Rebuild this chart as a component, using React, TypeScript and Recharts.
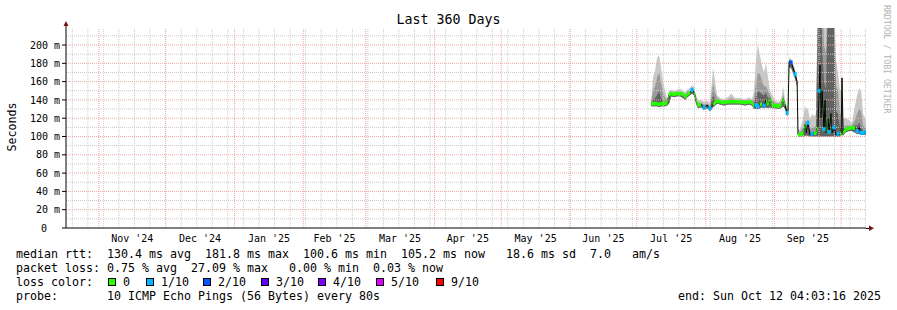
import React from 'react'
import { ComposedChart, Area, Line, XAxis, YAxis, ReferenceLine } from 'recharts'

// 360 days ending Sun Oct 12 04:03:16 2025, x measured in days from the left edge
const DAY = 86400000
const END = Date.UTC(2025, 9, 12, 4, 3, 16)
const START = END - 360 * DAY
const toDay = (t: number) => (t - START) / DAY

const monthLabels = ["Nov '24", "Dec '24", "Jan '25", "Feb '25", "Mar '25", "Apr '25", "May '25", "Jun '25", "Jul '25", "Aug '25", "Sep '25"]
const yTicks = [0, 20, 40, 60, 80, 100, 120, 140, 160, 180, 200]
const yMinor = [10, 30, 50, 70, 90, 110, 130, 150, 170, 190, 210]

// month boundaries (Nov 1 2024 .. Oct 1 2025) and label positions mid-month
const monthStarts = Array.from({ length: 12 }, (_, k) => toDay(Date.UTC(2024, 10 + k, 1)))
const monthMids = monthLabels.map((_, k) => (monthStarts[k] + monthStarts[k + 1]) / 2)
const weekLines: number[] = []
for (let t = Date.UTC(2024, 9, 20); toDay(t) < 360; t += 7 * DAY) weekLines.push(toDay(t))

// samples, days since start
const days = [
  263.3, 264.2, 265.1, 266.0, 266.9, 267.8, 268.7, 269.6, 270.5, 271.4,
  272.3, 273.6, 275.0, 276.3, 277.7, 278.6, 279.5, 280.8, 281.7, 282.6,
  283.5, 284.4, 285.8, 287.1, 288.5, 289.8, 291.2, 292.1, 293.0, 294.3,
  296.1, 297.9, 299.3, 301.1, 303.3, 305.6, 307.4, 308.7, 309.6, 310.5,
  311.4, 312.3, 313.2, 314.1, 315.0, 315.9, 316.8, 317.7, 319.1, 320.4,
  321.8, 322.7, 323.6, 324.5, 324.9, 325.4, 326.3, 327.2, 328.1, 329.0,
  329.4, 330.3, 331.7, 332.6, 333.0, 333.9, 334.8, 335.7, 336.6, 337.5,
  338.4, 338.9, 339.3, 339.8, 340.2, 341.1, 341.6, 342.0, 342.9, 343.4,
  344.3, 344.7, 345.6, 346.5, 347.4, 348.3, 348.8, 349.2, 349.7, 351.0,
  352.4, 353.7, 355.1, 356.0, 356.9, 357.8, 358.7, 360.0,
]
// median rtt in ms
const median = [
  136, 136, 136, 136, 135, 136, 136, 136, 137, 146,
  147, 146, 147, 147, 146, 143, 146, 148, 151, 149,
  140, 134, 135, 132, 134, 131, 135, 137, 139, 138,
  137, 138, 138, 138, 138, 137, 138, 137, 133, 134,
  133, 135, 136, 134, 140, 134, 141, 134, 134, 133,
  134, 141, 134, 126, 128, 182, 181, 175, 168, 160,
  102, 102, 103, 113, 104, 115, 102, 103, 104, 103,
  110, 150, 178, 120, 150, 108, 140, 104, 120, 105,
  125, 104, 110, 102, 103, 102, 104, 164, 104, 108,
  109, 110, 109, 106, 110, 104, 104, 105,
]
// lost pings out of 10
const loss = [
  0, 0, 0, 0, 0, 0, 0, 0, 0, 0,
  0, 0, 0, 0, 0, 0, 0, 0, 1, 0,
  0, 0, 0, 1, 0, 1, 0, 0, 0, 0,
  0, 0, 0, 0, 0, 0, 0, 0, 0, 1,
  1, 0, 0, 1, 0, 0, 0, 0, 0, 0,
  0, 0, 0, 1, 0, 0, 2, 0, 1, 0,
  0, 0, 0, 0, 0, 1, 0, 1, 0, 0,
  0, 1, 0, 0, 0, 1, 0, 0, 0, 1,
  0, 0, 1, 0, 1, 0, 0, 0, 0, 0,
  0, 0, 0, 1, 0, 1, 1, 1,
]
// smoke: common lower edge and upper edges of the light / mid / dark bands
const smokeLo = [
  133, 133, 133, 133, 132, 133, 133, 133, 134, 136,
  144, 143, 144, 144, 142, 140, 143, 145, 147, 145,
  136, 131, 132, 129, 131, 128, 132, 134, 136, 135,
  134, 135, 135, 135, 135, 134, 135, 134, 130, 130,
  130, 131, 132, 131, 132, 131, 132, 131, 131, 130,
  131, 133, 130, 122, 124, 176, 175, 170, 163, 155,
  100, 100, 100, 101, 101, 101, 100, 100, 100, 100,
  100, 100, 100, 100, 100, 100, 100, 100, 100, 100,
  100, 100, 100, 100, 100, 100, 101, 102, 101, 105,
  106, 106, 104, 103, 103, 102, 102, 102,
]
const lightHi = [
  140, 165, 172, 186, 189, 175, 160, 150, 141, 150,
  151, 150, 151, 152, 150, 148, 151, 153, 156, 154,
  146, 139, 140, 138, 139, 137, 175, 160, 145, 142,
  141, 143, 147, 142, 142, 141, 143, 141, 150, 185,
  200, 188, 178, 170, 180, 165, 150, 146, 139, 138,
  140, 155, 140, 132, 134, 186, 185, 180, 173, 165,
  108, 108, 120, 134, 130, 131, 118, 125, 122, 125,
  260, 260, 260, 260, 260, 240, 230, 215, 260, 260,
  260, 260, 260, 185, 170, 150, 150, 168, 120, 120,
  118, 115, 135, 145, 153, 150, 125, 118,
]
const midHi = [
  138, 150, 155, 165, 170, 158, 148, 142, 139, 148,
  149, 148, 149, 149, 148, 146, 149, 150, 153, 151,
  143, 137, 137, 135, 136, 134, 158, 148, 142, 140,
  139, 140, 142, 140, 140, 139, 140, 139, 140, 160,
  170, 168, 160, 155, 155, 150, 145, 140, 137, 136,
  137, 146, 137, 129, 131, 184, 183, 177, 170, 162,
  105, 105, 110, 118, 116, 118, 108, 110, 110, 112,
  260, 260, 260, 260, 260, 200, 195, 190, 260, 260,
  260, 260, 260, 155, 150, 125, 125, 166, 110, 112,
  112, 112, 118, 125, 130, 128, 112, 110,
]
const darkHi = [
  137, 140, 142, 145, 150, 142, 139, 138, 138, 147,
  148, 147, 148, 148, 147, 144, 147, 149, 152, 150,
  141, 135, 136, 133, 135, 132, 145, 140, 140, 139,
  138, 139, 139, 139, 139, 138, 139, 138, 135, 145,
  150, 148, 146, 145, 148, 142, 143, 137, 135, 134,
  135, 143, 135, 127, 129, 183, 182, 176, 169, 161,
  103, 103, 105, 114, 108, 116, 104, 105, 105, 106,
  230, 250, 260, 240, 200, 160, 155, 150, 260, 260,
  250, 240, 220, 128, 125, 110, 110, 165, 106, 110,
  110, 111, 112, 112, 115, 110, 106, 106,
]

const lossLabels = ['0', '1/10', '2/10', '3/10', '4/10', '5/10', '9/10']
const lossColors = ['#26ff00', '#00b8ff', '#0059ff', '#5e00ff', '#7e00ff', '#dd00ff', '#ff0000']
const lossBoxX = [108, 146, 203, 261, 318, 376, 436]

// the loss-coloured median is a thin band around the value, so steep jumps stay black
const BAND = 2.0
const data = days.map((d, i) => ({
  day: d,
  med: median[i],
  loss: loss[i],
  ok: loss[i] === 0 ? [median[i] - BAND, median[i] + BAND] : null,
  light: [smokeLo[i], lightHi[i]],
  mid: [smokeLo[i], midHi[i]],
  dark: [smokeLo[i], darkHi[i]],
}))

const MONO = 'DejaVu Sans Mono, monospace'
const GRID = '#cacaca'
const MGRID = '#f4a4a4'

const XTick = (p: any) => (
  <text x={p.x} y={p.y} dy={13.5} textAnchor="middle" fontSize={10} fontFamily={MONO} fill="#000">
    {monthLabels[p.index]}
  </text>
)

const YTick = (p: any) => {
  const v = p.payload.value
  return (
    <text x={v === 0 ? p.x - 13 : p.x} y={p.y} dy={3.6} textAnchor="end" fontSize={10} fontFamily={MONO} fill="#000">
      {v === 0 ? '0' : `${v} m`}
    </text>
  )
}

const LossDot = (p: any) => {
  const l = p.payload ? p.payload.loss : 0
  if (!l || p.cy == null) return <g key={`d${p.index}`} />
  return <rect key={`d${p.index}`} x={p.cx - 1.5} y={p.cy - 2} width={3} height={4} fill={lossColors[l]} />
}

const row = (top: number): React.CSSProperties => ({
  position: 'absolute', left: 16, top, fontFamily: MONO, fontSize: 11.63, lineHeight: '14px', whiteSpace: 'pre', color: '#000',
})

export default function App() {
  const z = (n: number) => ({ zIndex: n } as any)
  return (
    <div style={{ position: 'absolute', left: 0, top: 0, width: 897, height: 310, background: '#fff', overflow: 'hidden' }}>
      <ComposedChart width={897} height={310} data={data} margin={{ top: 28, right: 31, left: 16, bottom: 62 }}>
        {weekLines.map((d) => (
          <ReferenceLine key={`w${d}`} x={d} stroke={GRID} strokeDasharray="1 1" />
        ))}
        {yMinor.map((v) => (
          <ReferenceLine key={`h${v}`} y={v} stroke={GRID} strokeDasharray="1 1" />
        ))}
        {yTicks.slice(1).map((v) => (
          <ReferenceLine key={`H${v}`} y={v} stroke={MGRID} strokeDasharray="1 1" />
        ))}
        {monthStarts.map((d) => (
          <ReferenceLine key={`m${d}`} x={d} stroke={MGRID} strokeDasharray="1 1" />
        ))}
        <XAxis dataKey="day" type="number" domain={[0, 360]} allowDataOverflow ticks={monthMids} tick={<XTick />}
          tickLine={false} tickSize={0} tickMargin={0} height={20} axisLine={{ stroke: '#000' }} interval={0} />
        <YAxis type="number" domain={[0, 218.6]} allowDataOverflow ticks={yTicks} tick={<YTick />} width={50}
          tickSize={4} tickMargin={2} tickLine={{ stroke: '#000' }} axisLine={{ stroke: '#000' }} interval={0} />
        <Area dataKey="light" type="linear" stroke="none" fill="#c8c8c8" fillOpacity={1} isAnimationActive={false} dot={false} activeDot={false} />
        <Area dataKey="mid" type="linear" stroke="none" fill="#9a9a9a" fillOpacity={1} isAnimationActive={false} dot={false} activeDot={false} />
        <Area dataKey="dark" type="linear" stroke="none" fill="#626262" fillOpacity={1} isAnimationActive={false} dot={false} activeDot={false} />
        <Line dataKey="med" type="linear" stroke="#000" strokeWidth={1} dot={false} activeDot={false} isAnimationActive={false} />
        <Area dataKey="ok" type="linear" stroke="none" fill="#26ff00" fillOpacity={1} connectNulls={false} isAnimationActive={false} dot={false} activeDot={false} {...z(900)} />
        <Line dataKey="med" type="linear" stroke="none" dot={LossDot} activeDot={false} isAnimationActive={false} {...z(1000)} />
      </ComposedChart>

      <svg width={897} height={310} style={{ position: 'absolute', left: 0, top: 0, pointerEvents: 'none' }}>
        <text x={448.5} y={24} textAnchor="middle" fontFamily={MONO} fontSize={13.3} fill="#000">Last 360 Days</text>
        <text transform="translate(15.5,127) rotate(-90)" textAnchor="middle" fontFamily={MONO} fontSize={11.6} fill="#000">Seconds</text>
        <text transform="translate(884,5) rotate(90)" fontFamily={MONO} fontSize={8.2} fill="#b4b4b4">RRDTOOL / TOBI OETIKER</text>
        <line x1={66} y1={28} x2={66} y2={24} stroke="#000" />
        <polygon points="63.5,26 68.5,26 66,21" fill="#7f1010" />
        <line x1={866} y1={228.5} x2={869} y2={228.5} stroke="#000" />
        <polygon points="869,225.5 869,231 874,228.25" fill="#7f1010" />
      </svg>

      <div style={row(247)}>median rtt:  130.4 ms avg  181.8 ms max  100.6 ms min  105.2 ms now   18.6 ms sd  7.0   am/s</div>
      <div style={row(261)}>packet loss: 0.75 % avg  27.09 % max   0.00 % min  0.03 % now</div>
      <div style={row(275)}>loss color:</div>
      {lossLabels.map((lab, i) => (
        <React.Fragment key={lab}>
          <div style={{ position: 'absolute', left: lossBoxX[i], top: 278, width: 6, height: 6, border: '1px solid #000', background: lossColors[i] }} />
          <div style={{ ...row(275), left: lossBoxX[i] + 15 }}>{lab}</div>
        </React.Fragment>
      ))}
      <div style={row(289)}>probe:       10 ICMP Echo Pings (56 Bytes) every 80s</div>
      <div style={{ ...row(289), left: 678 }}>end: Sun Oct 12 04:03:16 2025</div>
    </div>
  )
}
